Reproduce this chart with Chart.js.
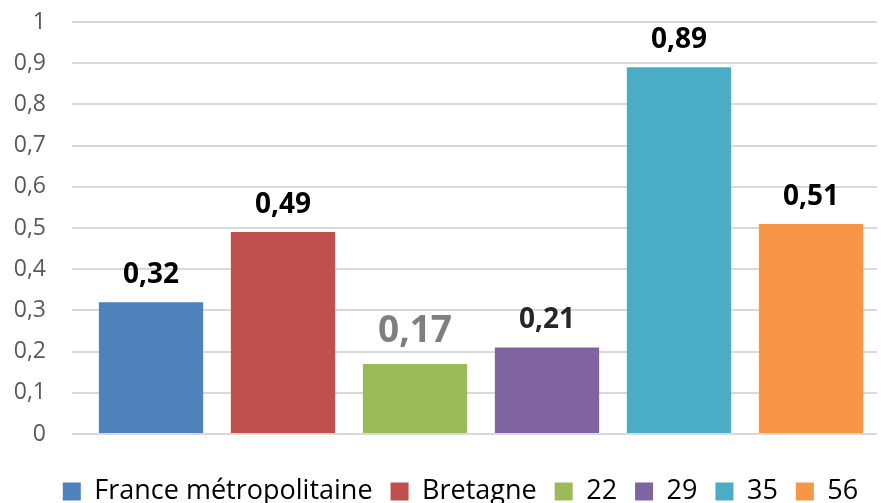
<!DOCTYPE html>
<html>
<head>
<meta charset="utf-8">
<script src="https://cdn.jsdelivr.net/npm/chart.js@4.4.0/dist/chart.umd.min.js"></script>
<style>
    html, body { margin: 0; padding: 0; background: #fff; overflow: hidden; }
    #wrap { position: relative; width: 881px; height: 515px; }
</style>
</head>
<body>
<div id="wrap"><canvas id="chart"></canvas></div>
<script>
const categories = ['France métropolitaine', 'Bretagne', '22', '29', '35', '56'];
const values = [0.32, 0.49, 0.17, 0.21, 0.89, 0.51];
const barColors = ['#4F81BD', '#C0504D', '#9BBB59', '#8064A2', '#4BACC6', '#F79646'];
const yTicks = [0, 0.1, 0.2, 0.3, 0.4, 0.5, 0.6, 0.7, 0.8, 0.9, 1];

const fmt = (v) => String(Math.round(v * 100) / 100).replace('.', ',');

// value labels above each bar
const barLabels = {
    id: 'barLabels',
    afterDatasetsDraw(chart) {
        const ctx = chart.ctx;
        const meta = chart.getDatasetMeta(0);
        ctx.save();
        ctx.textAlign = 'center';
        ctx.textBaseline = 'alphabetic';
        meta.data.forEach((bar, i) => {
            const big = i === 2;
            ctx.font = 'bold ' + (big ? 37 : 28) + 'px "Open Sans"';
            ctx.fillStyle = big ? '#7F7F7F' : (i === 3 ? '#262626' : '#000');
            ctx.fillText(fmt(values[i]), bar.x, bar.y - (big ? 22 : 19));
        });
        ctx.restore();
    }
};

// nudge the legend to the right like the original
const legendShift = {
    id: 'legendShift',
    afterLayout(chart) {
        chart.legend.left += 22;
        chart.legend.right += 22;
    }
};

new Chart(document.getElementById('chart'), {
    type: 'bar',
    data: {
        labels: categories,
        datasets: [{
            data: values,
            backgroundColor: barColors,
            borderWidth: 0,
            categoryPercentage: 1,
            barPercentage: 0.79
        }]
    },
    options: {
        responsive: true,
        maintainAspectRatio: false,
        animation: false,
        layout: { padding: { top: 0, right: 4, left: 0, bottom: 0 } },
        scales: {
            x: {
                ticks: { display: false },
                grid: { display: false },
                border: { display: false },
                afterFit: (axis) => { axis.height = 26; }
            },
            y: {
                min: 0,
                max: 1,
                afterBuildTicks: (axis) => { axis.ticks = yTicks.map(v => ({ value: v })); },
                afterFit: (axis) => {
                    axis.width = 85;
                    axis.paddingTop = 22;
                    axis.paddingBottom = 0;
                },
                ticks: {
                    color: '#595959',
                    font: { family: 'Open Sans', size: 23 },
                    padding: 26,
                    callback: (v) => fmt(v)
                },
                grid: { color: '#D9D9D9', lineWidth: 2, tickLength: 13 },
                border: { display: false }
            }
        },
        plugins: {
            legend: {
                position: 'bottom',
                labels: {
                    color: '#595959',
                    font: { family: 'Open Sans', size: 27 },
                    boxWidth: 18,
                    boxHeight: 18,
                    padding: 18,
                    generateLabels: (chart) => categories.map((c, i) => ({
                        text: c,
                        fillStyle: barColors[i],
                        strokeStyle: barColors[i],
                        lineWidth: 0,
                        index: i
                    }))
                }
            },
            tooltip: { enabled: false }
        }
    },
    plugins: [barLabels, legendShift]
});
</script>
</body>
</html>
